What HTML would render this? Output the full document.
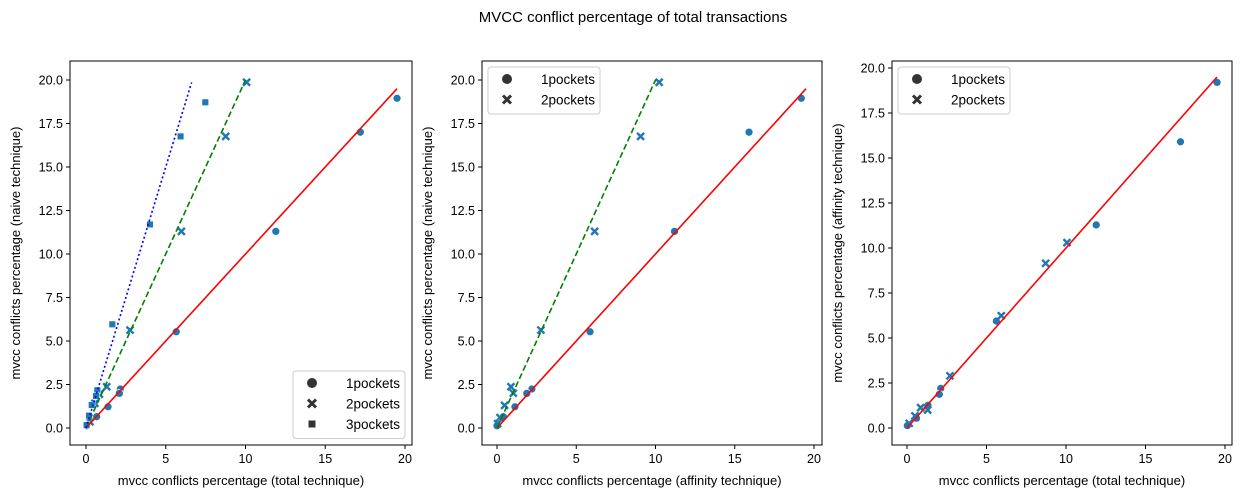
<!DOCTYPE html>
<html><head><meta charset="utf-8"><style>
body{margin:0;background:#fff;}
svg{display:block;font-family:"Liberation Sans","DejaVu Sans",sans-serif;}
</style></head><body>
<svg id="fig" width="1244" height="498" xmlns="http://www.w3.org/2000/svg">
<text x="633" y="22" text-anchor="middle" font-size="15">MVCC conflict percentage of total transactions</text>
</svg>
<script>
// Panel 1 data (total technique vs naive)
const p1_one_x=[19.5,17.2,11.9,5.66,2.15,2.09,1.38,0.67,0.04];
const p1_one_y=[18.95,17.0,11.3,5.53,2.24,1.99,1.22,0.65,0.13];
const p1_two_x=[10.07,8.76,5.98,2.76,1.3,0.84,0.56,0.25];
const p1_two_y=[19.87,16.76,11.3,5.63,2.37,1.94,1.42,0.36];
const p1_three_x=[7.48,5.93,4.01,1.65,0.71,0.63,0.36,0.19,0.04];
const p1_three_y=[18.72,16.76,11.7,5.96,2.17,1.84,1.32,0.71,0.17];
// Panel 2 data (affinity vs naive)
const p2_one_x=[19.2,15.9,11.2,5.87,2.2,1.88,1.13,0.4,0.0];
const p2_one_y=[18.95,17.0,11.3,5.53,2.24,1.99,1.22,0.65,0.13];
const p2_two_x=[10.23,9.06,6.16,2.77,0.88,1.03,0.48,0.19,0.04];
const p2_two_y=[19.87,16.76,11.3,5.63,2.37,2.0,1.3,0.6,0.25];
// Panel 3 data (total vs affinity)
const p3_one_x=[19.5,17.2,11.9,5.62,2.12,2.03,1.32,0.6,0.02];
const p3_one_y=[19.2,15.9,11.28,5.94,2.2,1.87,1.26,0.54,0.13];
const p3_two_x=[10.06,8.72,5.93,2.7,1.3,0.86,0.5,0.14];
const p3_two_y=[10.3,9.15,6.24,2.9,1.0,1.13,0.67,0.26];
// Reference lines: [slope, xEnd]
const p1_lines=[[1,19.5,'red',''],[2,10,'green','6,3'],[3,6.62,'blue','2,2.5']];
const p2_lines=[[1,19.5,'red',''],[2,10,'green','6,3']];
const p3_lines=[[1,19.5,'red','']];
const yt1=[0,2.5,5,7.5,10,12.5,15,17.5,20];
const xt=[0,5,10,15,20];

const NS='http://www.w3.org/2000/svg';
const fig=document.getElementById('fig');
const C='#1f77b4';
function el(t,a,p){const e=document.createElementNS(NS,t);for(const k in a)e.setAttribute(k,a[k]);(p||fig).appendChild(e);return e;}

function panel(id,box,x0px,x20px,y0px,ytop,ytopVal,series,lines,xlabel,ylabel,leg){
  const g=el('g',{});
  
  
  const sx=v=>x0px+(x20px-x0px)*v/20;
  const sy=v=>y0px-(y0px-ytop)*v/ytopVal;
  const fr=el('rect',{x:box[0],y:box[1],width:box[2]-box[0],height:box[3]-box[1],fill:'none',stroke:'#000','stroke-width':1},g);
  
  
  xt.forEach(v=>{
    el('line',{x1:sx(v),x2:sx(v),y1:box[3],y2:box[3]+4,stroke:'#000'},g);
    const t=el('text',{x:sx(v),y:box[3]+18,'text-anchor':'middle','font-size':12.5},g);t.textContent=v;
    
    
  });
  yt1.forEach(v=>{
    el('line',{x1:box[0]-4,x2:box[0],y1:sy(v),y2:sy(v),stroke:'#000'},g);
    const t=el('text',{x:box[0]-7,y:sy(v)+4.5,'text-anchor':'end','font-size':12.5},g);t.textContent=v.toFixed(1);
    
    
  });
  const xl=el('text',{x:(box[0]+box[2])/2,y:box[3]+40,'text-anchor':'middle','font-size':13},g);xl.textContent=xlabel;
  
  
  const yx=box[0]-50,yy=(box[1]+box[3])/2;
  const yl=el('text',{x:yx,y:yy,'text-anchor':'middle','font-size':13,transform:`rotate(-90 ${yx} ${yy})`},g);yl.textContent=ylabel;
  
  
  function mark(kind,x,y,parent){
    let m;
    if(kind==='o') m=el('circle',{cx:x,cy:y,r:4,fill:C,stroke:'#fff','stroke-width':0.7},parent);
    else if(kind==='x') m=el('path',{d:`M${x-3.5},${y-3.5}L${x+3.5},${y+3.5}M${x-3.5},${y+3.5}L${x+3.5},${y-3.5}`,stroke:C,'stroke-width':2.4},parent);
    else m=el('rect',{x:x-3.3,y:y-3.3,width:6.6,height:6.6,fill:C,stroke:'#fff','stroke-width':0.5},parent);
    return m;
  }
  series.forEach(s=>{
    s.xs.forEach((v,i)=>{
      const m=mark(s.k,sx(v),sy(s.ys[i]),g);
      
      
    });
  });
  lines.forEach(l=>{
    const a={x1:sx(0),y1:sy(0),x2:sx(l[1]),y2:sy(l[1]*l[0]),stroke:l[2],'stroke-width':1.6};
    if(l[3])a['stroke-dasharray']=l[3];
    const ln=el('line',a,g);
    
    
  });
  const lg=el('g',{},g);
  
  
  const h=series.length*20.5+6;
  el('rect',{x:leg[0],y:leg[1],width:112,height:h,rx:3,fill:'#fff','fill-opacity':0.85,stroke:'#ccc'},lg);
  series.forEach((s,i)=>{
    const yy=leg[1]+12+i*20.5;
    const k=s.k==='o'?el('circle',{cx:leg[0]+19,cy:yy,r:5,fill:'#333'},lg):
      s.k==='x'?el('path',{d:`M${leg[0]+15},${yy-4}L${leg[0]+23},${yy+4}M${leg[0]+15},${yy+4}L${leg[0]+23},${yy-4}`,stroke:'#333','stroke-width':3},lg):
      el('rect',{x:leg[0]+15.5,y:yy-3.5,width:7,height:7,fill:'#333'},lg);
    
    
    const t=el('text',{x:leg[0]+107,y:yy+5,'text-anchor':'end','font-size':13.5},lg);t.textContent=s.n;
    
    
  });
}
panel('panel-total-vs-naive',[70,61,412,445],86,405,428,80,20,
 [{k:'o',n:'1pockets',xs:p1_one_x,ys:p1_one_y},{k:'x',n:'2pockets',xs:p1_two_x,ys:p1_two_y},{k:'s',n:'3pockets',xs:p1_three_x,ys:p1_three_y}],
 p1_lines,'mvcc conflicts percentage (total technique)','mvcc conflicts percentage (naive technique)',[293,371]);
panel('panel-affinity-vs-naive',[482,61,822,445],497,814,428,80,20,
 [{k:'o',n:'1pockets',xs:p2_one_x,ys:p2_one_y},{k:'x',n:'2pockets',xs:p2_two_x,ys:p2_two_y}],
 p2_lines,'mvcc conflicts percentage (affinity technique)','mvcc conflicts percentage (naive technique)',[488,67]);
panel('panel-total-vs-affinity',[892,61,1232,445],907,1225,428,68,20,
 [{k:'o',n:'1pockets',xs:p3_one_x,ys:p3_one_y},{k:'x',n:'2pockets',xs:p3_two_x,ys:p3_two_y}],
 p3_lines,'mvcc conflicts percentage (total technique)','mvcc conflicts percentage (affinity technique)',[898,67]);
</script>
</body></html>
